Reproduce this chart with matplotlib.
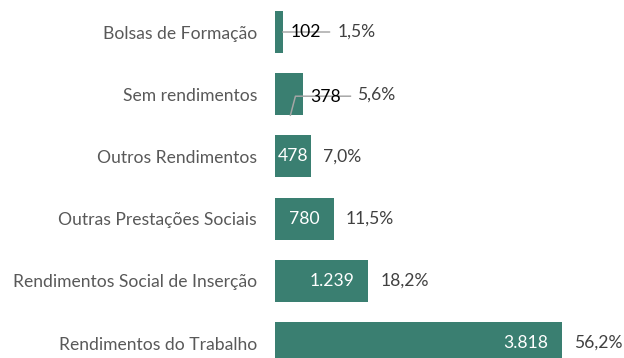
import matplotlib.pyplot as plt

categorias = ["Bolsas de Formação", "Sem rendimentos", "Outros Rendimentos",
              "Outras Prestações Sociais", "Rendimentos Social de Inserção",
              "Rendimentos do Trabalho"]
valores = [102, 378, 478, 780, 1239, 3818]
valores_txt = ["102", "378", "478", "780", "1.239", "3.818"]
percentagens = ["1,5%", "5,6%", "7,0%", "11,5%", "18,2%", "56,2%"]

verde = "#3a7f71"
plt.rcParams["font.family"] = ["Lato", "DejaVu Sans"]

# dpi 72 -> 1 point = 1 pixel
fig = plt.figure(figsize=(624 / 72, 358 / 72), dpi=72)
ax = fig.add_axes([275 / 624, 0, 349 / 624, 1])

pos = list(range(len(valores)))
ax.barh(pos, valores, height=0.675, color=verde)
ax.set_xlim(0, 349 / 0.0752)
ax.set_ylim((358 - 32) / 62.2, -32 / 62.2)

fs = 17.5
ax.set_yticks(pos)
ax.set_yticklabels(categorias, fontsize=fs, color="#595959")
ax.tick_params(axis="y", length=0, pad=18)
ax.set_xticks([])
for s in ax.spines.values():
    s.set_visible(False)

for i, (v, vt, p) in enumerate(zip(valores, valores_txt, percentagens)):
    largura = v * 0.0752
    if i == 0:
        # rotulo fora da barra com linha de chamada horizontal
        ax.annotate("", xy=(v, i), xytext=(47, 0), textcoords="offset points",
                    arrowprops=dict(arrowstyle="-", color="#a6a6a6", lw=1.5,
                                    shrinkA=0, shrinkB=0))
        ax.annotate(vt, xy=(v, i), xytext=(8, 0), textcoords="offset points",
                    ha="left", va="center", fontsize=fs, color="black")
        ax.annotate(p, xy=(v, i), xytext=(55, 0), textcoords="offset points",
                    ha="left", va="center", fontsize=fs, color="#404040")
    elif i == 1:
        # linha de chamada quebrada a partir do interior da barra
        x0, y0 = ax.transData.transform((v, i))
        ax.plot([x0 - 13, x0 - 8, x0 + 47], [y0 - 21, y0 - 2, y0 - 2],
                transform=None, color="#a6a6a6", lw=1.5, clip_on=False)
        ax.annotate(vt, xy=(v, i), xytext=(7, -3), textcoords="offset points",
                    ha="left", va="center", fontsize=fs, color="black")
        ax.annotate(p, xy=(v, i), xytext=(54, 0), textcoords="offset points",
                    ha="left", va="center", fontsize=fs, color="#404040")
    else:
        if largura > 60:
            ax.annotate(vt, xy=(v, i), xytext=(-14, 0), textcoords="offset points",
                        ha="right", va="center", fontsize=fs, color="white")
        else:
            ax.text(v / 2, i, vt, ha="center", va="center", fontsize=fs,
                    color="white")
        ax.annotate(p, xy=(v, i), xytext=(12, 0), textcoords="offset points",
                    ha="left", va="center", fontsize=fs, color="#404040")

fig.savefig("out.png", dpi=72)
